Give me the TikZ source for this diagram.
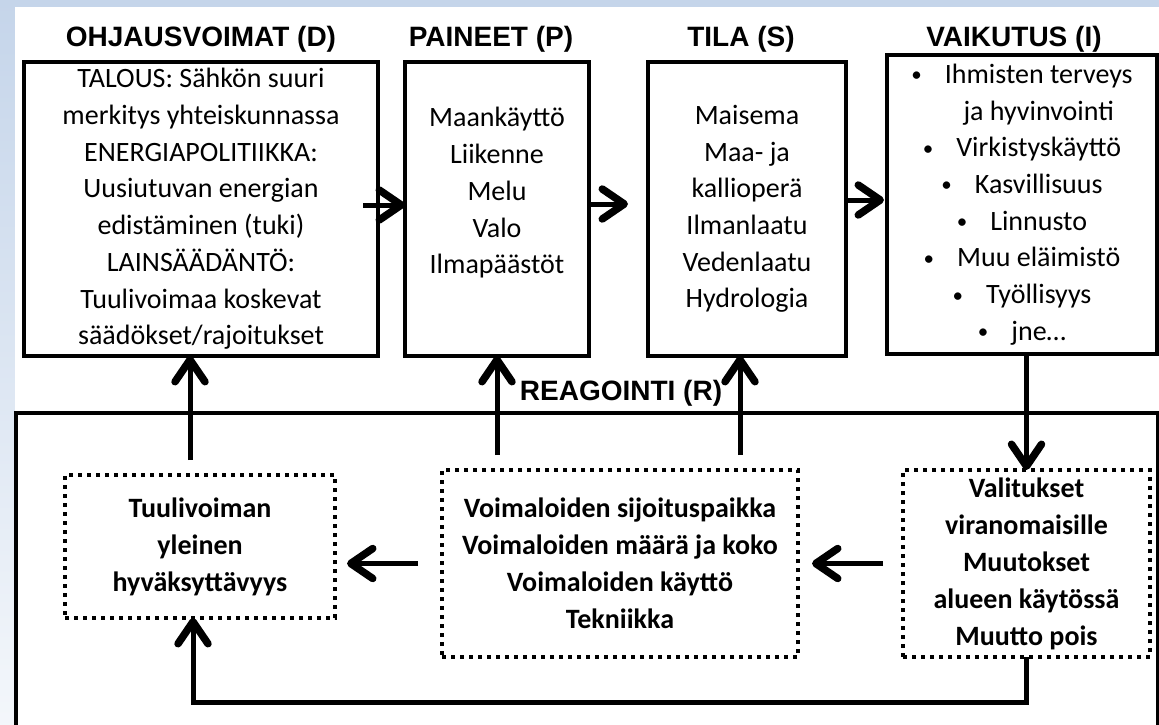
\documentclass[tikz,border=0pt]{standalone}
\usepackage{fontspec}
\setmainfont{Carlito}
\newfontfamily\headfont{Liberation Sans}
\usepackage{tikz}
\usetikzlibrary{arrows.meta,positioning}
\definecolor{bgblue}{HTML}{C5D5EA}
\newcommand{\bulpt}{\raisebox{1.5pt}{\fontsize{21}{21}\selectfont •}\hspace{23pt}}
\tikzstyle{mainbox} = [rectangle, draw=black, line width=4pt, outer sep=0pt, inner sep=2pt, align=center, font=\fontsize{28}{36.7}\selectfont]
\tikzstyle{dotbox} = [rectangle, draw=black, line width=3.5pt, dash pattern=on 4pt off 5pt, outer sep=0pt, inner sep=2pt, align=center, font=\fontsize{28}{37}\selectfont\bfseries]
\tikzstyle{head} = [inner sep=0pt, text depth=0pt, font=\headfont\fontsize{28}{30}\selectfont\bfseries]
\tikzstyle{arrow} = [line width=5pt, -{Straight Barb[length=22pt,width=30pt,line width=7.5pt,round]}]
\tikzstyle{line} = [line width=4pt]

\begin{document}
\begin{tikzpicture}[x=1pt, y=-1pt]

\shade [top color=bgblue, bottom color=bgblue!20] (0,0) rectangle (1159,725);
\fill [white] (15,7) rectangle (1159,725);
\useasboundingbox (0,0) rectangle (1159,725);

\node (box1) [mainbox, minimum width=354pt, minimum height=294pt] at (201,209) {TALOUS: Sähkön suuri\\merkitys yhteiskunnassa\\ENERGIAPOLITIIKKA:\\Uusiutuvan energian\\edistäminen (tuki)\\LAINSÄÄDÄNTÖ:\\Tuulivoimaa koskevat\\säädökset/rajoitukset};
\node (box2) [mainbox, minimum width=184pt, minimum height=294pt, right=27pt of box1] {Maankäyttö\\Liikenne\\Melu\\Valo\\Ilmapäästöt\\ ~};
\node (box3) [mainbox, minimum width=198pt, minimum height=294pt, right=59pt of box2] {Maisema\\Maa- ja\\kallioperä\\Ilmanlaatu\\Vedenlaatu\\Hydrologia};
\node (box4) [mainbox, minimum width=270pt, minimum height=299pt, right=41pt of box3, yshift=4.5pt] {\bulpt Ihmisten terveys\\\phantom{\bulpt}ja hyvinvointi\\\bulpt Virkistyskäyttö\\\bulpt Kasvillisuus\\\bulpt Linnusto\\\bulpt Muu eläimistö\\\bulpt Työllisyys\\\bulpt jne…};

\node (tit1) [head, above=15pt of box1] {OHJAUSVOIMAT (D)};
\node (tit2) [head, above=15pt of box2, xshift=-6pt] {PAINEET (P)};
\node (tit3) [head, above=15pt of box3, xshift=-6pt] {TILA (S)};
\node (tit4) [head, above=8pt of box4, xshift=-8pt] {VAIKUTUS (I)};
\node (tit5) [head, anchor=base] at (621,400) {REAGOINTI (R)};

\draw [line] (16,740) |- (1158,413) -- (1158,740);

\node (dot2) [dotbox, minimum width=356pt, minimum height=187pt] at (620,563.5) {Voimaloiden sijoituspaikka\\Voimaloiden määrä ja koko\\Voimaloiden käyttö\\Tekniikka};
\node (dot1) [dotbox, minimum width=270pt, minimum height=143pt, left=107pt of dot2, yshift=17pt] {Tuulivoiman\\yleinen\\hyväksyttävyys};
\node (dot3) [dotbox, minimum width=247pt, minimum height=187pt, right=105pt of dot2] {Valitukset\\viranomaisille\\Muutokset\\alueen käytössä\\Muutto pois};

\draw [arrow] ([xshift=-15pt,yshift=4pt]box1.east) -- ([yshift=4pt]box2.west);
\draw [arrow] ([yshift=5pt]box2.east) -- ([xshift=-20pt,yshift=5pt]box3.west);
\draw [arrow] ([yshift=9pt]box3.east) -- ([xshift=-3pt,yshift=4.5pt]box4.west);
\draw [arrow] ([xshift=-10pt,yshift=15pt]dot1.north) -- ([xshift=-11pt]box1.south);
\draw [arrow] ([yshift=15pt]dot2.north -| box2.south) -- (box2.south);
\draw [arrow] ([xshift=-7pt,yshift=15pt]dot2.north -| box3.south) -- ([xshift=-7pt]box3.south);
\draw [arrow] (box4.south -| dot3.north) -- (dot3.north);
\draw [arrow] ([xshift=-20pt]dot3.west) -- ([xshift=14pt]dot2.east);
\draw [arrow] ([xshift=-24pt]dot2.west) -- ([xshift=12pt]dot1.east |- dot2.west);
\draw [arrow] (dot3.south) -- ++(0,45) -| ([xshift=-7pt]dot1.south);

\end{tikzpicture}
\end{document}
